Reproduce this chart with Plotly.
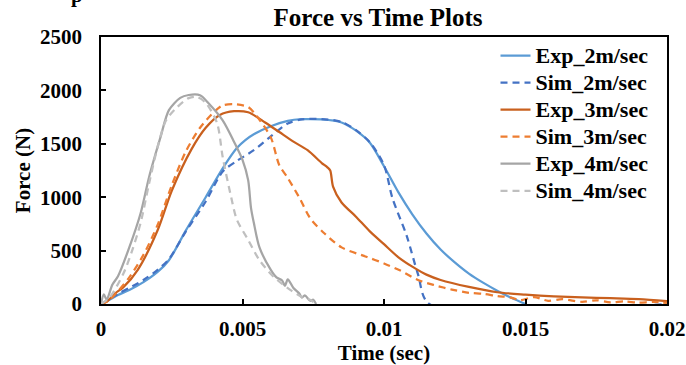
import plotly.graph_objects as go

# ---------------- data ----------------
x_tickvals = [0, 0.005, 0.01, 0.015, 0.02]
x_ticktext = ["0", "0.005", "0.01", "0.015", "0.02"]
y_tickvals = [0, 500, 1000, 1500, 2000, 2500]
y_ticktext = ["0", "500", "1000", "1500", "2000", "2500"]

t_exp2 = [0, 0.0003, 0.0006, 0.001, 0.0015, 0.002, 0.0024, 0.003, 0.0037, 0.0043, 0.0048,
          0.0051, 0.0054, 0.006, 0.0066, 0.0071, 0.0078, 0.0085, 0.009, 0.0095, 0.01, 0.0105,
          0.011, 0.0115, 0.012, 0.0125, 0.013, 0.0135, 0.014, 0.0145, 0.015]
f_exp2 = [0, 40, 85, 131, 205, 300, 410, 690, 1000, 1270, 1460,
          1535, 1590, 1665, 1715, 1730, 1728, 1700, 1625, 1510, 1290, 1050,
          840, 660, 510, 390, 285, 200, 125, 58, 0]

t_sim2 = [0, 0.0003, 0.0006, 0.001, 0.0015, 0.002, 0.0024, 0.003, 0.0037, 0.0043, 0.0048,
          0.0054, 0.006, 0.0066, 0.0071, 0.0078, 0.0085, 0.009, 0.0095, 0.01, 0.0103,
          0.0108, 0.0112, 0.0116, 0.02]
f_sim2 = [0, 45, 95, 150, 225, 320, 420, 680, 960, 1240, 1340,
          1440, 1570, 1690, 1728, 1732, 1705, 1630, 1515, 1300, 990,
          640, 280, 0, 0]

t_exp3 = [0, 0.0002, 0.0005, 0.0008, 0.0013, 0.002, 0.0025, 0.0032, 0.0037, 0.0042, 0.0047,
          0.0052, 0.0058, 0.0063, 0.0068, 0.0073, 0.0078, 0.008, 0.0081, 0.0082, 0.0085,
          0.009, 0.0095, 0.01, 0.0105, 0.011, 0.0115, 0.012, 0.013, 0.014, 0.015, 0.016,
          0.017, 0.018, 0.019, 0.02]
f_exp3 = [0, 20, 100, 160, 320, 690, 1060, 1450, 1650, 1770, 1805,
          1795, 1700, 1610, 1520, 1440, 1320, 1280, 1250, 1100, 950,
          820, 680, 560, 440, 350, 275, 225, 160, 110, 88, 72,
          62, 54, 45, 28]

t_sim3 = [0, 0.0003, 0.0006, 0.001, 0.0015, 0.002, 0.0025, 0.003, 0.0035, 0.004, 0.0043,
          0.0047, 0.0052, 0.0055, 0.006, 0.0063, 0.0066, 0.007, 0.0074, 0.0079, 0.0085,
          0.0094, 0.01, 0.0106, 0.0112, 0.0118, 0.0124, 0.013, 0.0135, 0.014, 0.0145,
          0.0148, 0.0153, 0.0158, 0.0163, 0.017, 0.0175, 0.018, 0.0185, 0.019, 0.0195, 0.02]
f_sim3 = [0, 40, 120, 250, 460, 740, 1110, 1430, 1650, 1800, 1860,
          1870, 1845, 1760, 1560, 1300, 1180, 1000, 800, 660, 530,
          440, 380, 310, 225, 175, 135, 105, 95, 75, 60,
          35, 65, 30, 45, 20, 35, 15, 25, 12, 20, 10]

t_exp4 = [0, 0.0001, 0.0002, 0.0004, 0.0006, 0.001, 0.0014, 0.0017, 0.0021, 0.0024, 0.0028,
          0.0031, 0.0035, 0.0038, 0.0043, 0.0047, 0.005, 0.0052, 0.0053, 0.0054, 0.0056,
          0.006, 0.0062, 0.0064, 0.0065, 0.0066, 0.0068, 0.007, 0.0071, 0.0072, 0.0074,
          0.0075, 0.0076]
f_exp4 = [0, 90, 40, 180, 260, 530, 850, 1190, 1560, 1815, 1930,
          1957, 1955, 1880, 1720, 1520, 1350, 1160, 900, 760, 530,
          320, 250, 220, 170, 230, 150, 100, 60, 80, 30,
          40, 0]

t_sim4 = [0, 0.0003, 0.0008, 0.0011, 0.0014, 0.0017, 0.002, 0.0023, 0.0027, 0.0031, 0.0034,
          0.0037, 0.0041, 0.0043, 0.0046, 0.0048, 0.0052, 0.0056, 0.0061, 0.0067, 0.0071,
          0.0074, 0.0076]
f_sim4 = [0, 60, 290, 500, 760, 1130, 1470, 1720, 1845, 1928, 1938,
          1885, 1695, 1376, 1000, 790, 600, 410, 255, 130, 66,
          37, 0]

series = [
    ("Exp_2m/sec", t_exp2, f_exp2, "#5B9BD5", "solid"),
    ("Sim_2m/sec", t_sim2, f_sim2, "#4472C4", "7px,5px"),
    ("Exp_3m/sec", t_exp3, f_exp3, "#C9601E", "solid"),
    ("Sim_3m/sec", t_sim3, f_sim3, "#ED7D31", "7px,5px"),
    ("Exp_4m/sec", t_exp4, f_exp4, "#A5A5A5", "solid"),
    ("Sim_4m/sec", t_sim4, f_sim4, "#BFBFBF", "7px,5px"),
]

FONT = "Liberation Serif"

fig = go.Figure()
for name, t, f, color, dash in series:
    fig.add_trace(go.Scatter(x=t, y=f, mode="lines",
                             name=f'<span style="font-size:22px">{name}</span>',
                             line=dict(color=color, width=2.25, dash=dash,
                                       shape="spline", smoothing=0.8)))

axis_common = dict(
    showline=True, linecolor="black", linewidth=1.5, mirror=True,
    ticks="inside", ticklen=5, tickwidth=1.5, tickcolor="black",
    showgrid=False, zeroline=False,
    tickfont=dict(family=FONT, size=21, color="black", weight="bold"),
)

fig.update_xaxes(range=[0, 0.02], tickmode="array", tickvals=x_tickvals, ticktext=x_ticktext,
                 ticklabelstandoff=5,
                 title=dict(text="Time (sec)", standoff=0,
                            font=dict(family=FONT, size=21, color="black", weight="bold")),
                 **axis_common)
fig.update_yaxes(range=[0, 2500], tickmode="array", tickvals=y_tickvals, ticktext=y_ticktext,
                 ticklabelstandoff=13,
                 title=dict(text="Force (N)", standoff=4,
                            font=dict(family=FONT, size=21, color="black", weight="bold")),
                 **axis_common)

fig.update_layout(
    width=686, height=365,
    margin=dict(l=101, r=19, t=37, b=61, autoexpand=False),
    plot_bgcolor="white", paper_bgcolor="white",
    font=dict(family=FONT, size=20, color="black"),
    title=dict(text="Force vs Time Plots", x=0.4895, xref="paper", xanchor="center",
               y=0.953, yref="container", yanchor="middle",
               font=dict(family=FONT, size=25, color="black", weight="bold")),
    legend=dict(x=0.697, y=1.0, xanchor="left", yanchor="top",
                bgcolor="rgba(0,0,0,0)", borderwidth=0,
                font=dict(family=FONT, size=18.5, color="black", weight="bold"),
                tracegroupgap=0),
    annotations=[dict(text="p", xref="paper", yref="paper", x=-0.042, y=1.157,
                      xanchor="center", yanchor="middle", showarrow=False,
                      font=dict(family=FONT, size=21, color="black", weight="bold"))],
)

fig.write_html("out.html", config={"displayModeBar": False},
               post_script="document.body.style.margin='0';")
